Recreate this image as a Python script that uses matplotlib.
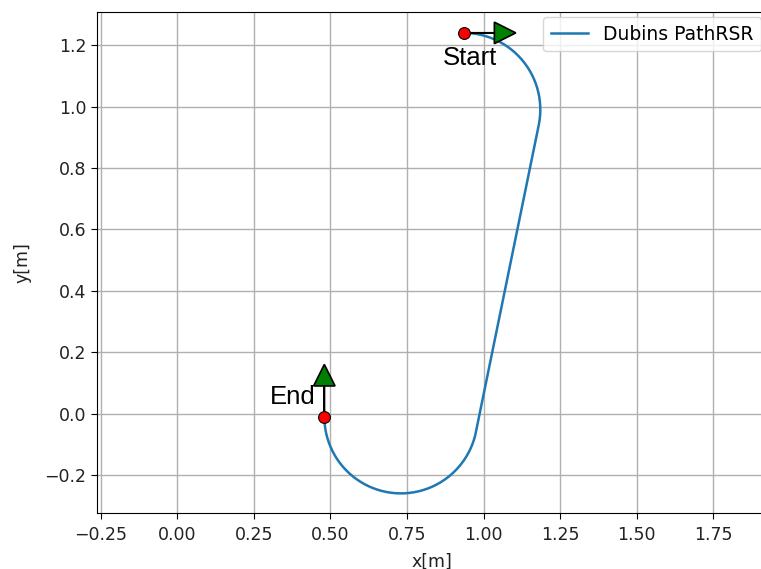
import numpy as np
import matplotlib
matplotlib.use("Agg")
import matplotlib.pyplot as plt

# poses [x, y, yaw(deg)] and turning radius
start_pose = [0.935, 1.24, 0.0]
end_pose = [0.48, -0.01, 90.0]
turn_radius = 0.25
path_mode = "RSR"

x_lim = [-0.261, 1.925]
y_lim = [-0.323, 1.309]
x_ticks = [-0.25, 0.0, 0.25, 0.5, 0.75, 1.0, 1.25, 1.5, 1.75]
y_ticks = [-0.2, 0.0, 0.2, 0.4, 0.6, 0.8, 1.0, 1.2]


def rsr_path(sp, ep, r, step=0.005):
    # right-straight-right dubins path between two poses
    sx, sy, syaw = sp[0], sp[1], np.deg2rad(sp[2])
    ex, ey, eyaw = ep[0], ep[1], np.deg2rad(ep[2])
    c1 = np.array([sx + r * np.sin(syaw), sy - r * np.cos(syaw)])
    c2 = np.array([ex + r * np.sin(eyaw), ey - r * np.cos(eyaw)])
    d = c2 - c1
    heading = np.arctan2(d[1], d[0])
    # clockwise arcs: angle of point around centre = yaw + pi/2
    a0 = syaw + np.pi / 2
    a1 = heading + np.pi / 2
    a2 = eyaw + np.pi / 2
    sweep1 = (a0 - a1) % (2 * np.pi)
    sweep2 = (a1 - a2) % (2 * np.pi)
    t1 = np.linspace(0, sweep1, max(int(sweep1 * r / step), 2))
    arc1 = c1 + r * np.c_[np.cos(a0 - t1), np.sin(a0 - t1)]
    p1 = arc1[-1]
    p2 = c2 + r * np.array([np.cos(a1), np.sin(a1)])
    n = max(int(np.hypot(*(p2 - p1)) / step), 2)
    seg = np.linspace(p1, p2, n)
    t2 = np.linspace(0, sweep2, max(int(sweep2 * r / step), 2))
    arc2 = c2 + r * np.c_[np.cos(a1 - t2), np.sin(a1 - t2)]
    pts = np.vstack([arc1, seg, arc2])
    return pts[:, 0], pts[:, 1]


def plot_arrow(ax, x, y, yaw, length=0.1, width=0.07):
    ax.arrow(x, y, length * np.cos(np.deg2rad(yaw)), length * np.sin(np.deg2rad(yaw)),
             fc="g", ec="k", head_width=width, head_length=width, lw=1.2, zorder=3)


fig = plt.figure(figsize=(7.61, 5.69), dpi=100)
ax = fig.add_axes([0.1279, 0.0989, 0.880, 0.8805])

px, py = rsr_path(start_pose, end_pose, turn_radius)
ax.plot(px, py, color="#1f77b4", lw=1.8, label="Dubins Path" + path_mode, zorder=2)

plot_arrow(ax, start_pose[0], start_pose[1], start_pose[2])
plot_arrow(ax, end_pose[0], end_pose[1], end_pose[2])
ax.plot([start_pose[0], end_pose[0]], [start_pose[1], end_pose[1]], "o",
        color="red", mec="k", mew=0.8, ms=8.5, zorder=4)

ax.text(start_pose[0] - 0.067, start_pose[1] - 0.105, "Start",
        fontsize=18.5, family="Liberation Sans", va="baseline")
ax.text(end_pose[0] - 0.03, end_pose[1] + 0.04, "End",
        fontsize=18.5, family="Liberation Sans", ha="right", va="baseline")

ax.set_xlim(x_lim)
ax.set_ylim(y_lim)
ax.set_xticks(x_ticks)
ax.set_yticks(y_ticks)
ax.tick_params(labelsize=12.5, length=4.5, labelcolor="#222222")
ax.tick_params(axis="x", pad=5)
ax.grid(True, color="#b0b0b0", lw=1.0)
ax.set_axisbelow(True)
ax.set_xlabel("x[m]", fontsize=12.5, labelpad=6, color="#222222")
ax.set_ylabel("y[m]", fontsize=12.5, labelpad=9, color="#222222")
ax.legend(loc="upper right", fontsize=13.5, borderaxespad=0.3)

fig.savefig("out.png", dpi=100)
